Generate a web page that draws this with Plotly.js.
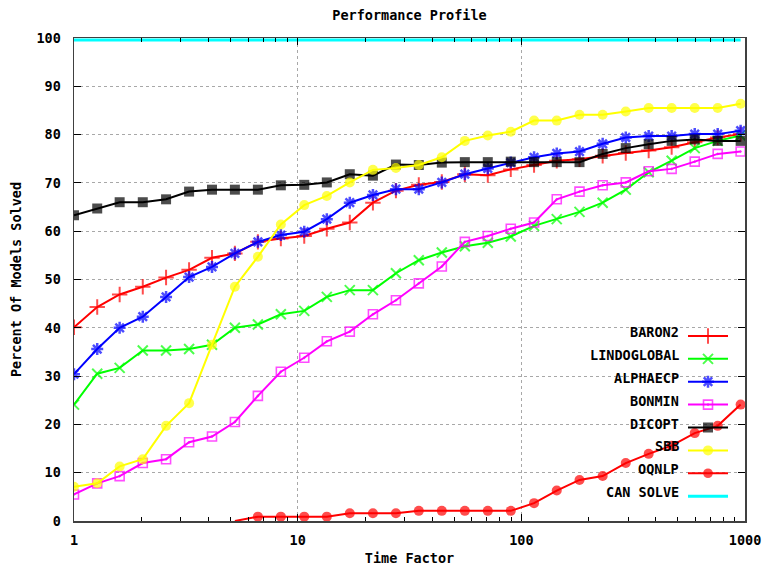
<!DOCTYPE html>
<html><head><meta charset="utf-8">
<script src="https://cdn.plot.ly/plotly-3.0.1.min.js"></script>
<style>html,body{margin:0;padding:0;background:#fff}#chart{width:766px;height:566px}</style>
</head><body><div id="chart"></div>
<script>
// ---- data ----
const timeFactor = [1, 1.27, 1.6, 2.03, 2.58, 3.27, 4.14, 5.24, 6.64, 8.41,
  10.7, 13.5, 17.1, 21.7, 27.5, 34.8, 44.1, 55.9, 70.8, 89.7,
  114, 144, 182, 231, 293, 371, 470, 596, 755, 956];
const seriesNames = ['BARON2', 'LINDOGLOBAL', 'ALPHAECP', 'BONMIN', 'DICOPT', 'SBB', 'OQNLP', 'CAN SOLVE'];
const baron2 = [40.1, 44.3, 46.9, 48.5, 50.4, 52.0, 54.5, 55.4, 57.8, 58.5,
  59.0, 60.5, 61.8, 65.9, 68.4, 69.6, 70.2, 71.8, 71.6, 72.8,
  73.7, 74.6, 74.9, 75.6, 76.2, 76.7, 77.4, 78.4, 79.4, 80.1];
const lindoglobal = [24.1, 30.5, 31.7, 35.3, 35.3, 35.6, 36.5, 40.0, 40.7, 42.8,
  43.5, 46.4, 47.8, 47.8, 51.3, 54.0, 55.6, 56.9, 57.6, 58.9,
  61.1, 62.5, 64.0, 65.9, 68.6, 72.2, 74.6, 77.2, 78.7, 79.8];
const alphaecp = [30.4, 35.6, 40.0, 42.3, 46.4, 50.5, 52.6, 55.4, 57.8, 59.2,
  59.9, 62.5, 65.9, 67.5, 68.7, 68.7, 70.1, 71.8, 73.0, 74.2,
  75.3, 76.1, 76.5, 78.1, 79.4, 79.7, 79.7, 80.1, 80.1, 80.8];
const bonmin = [5.5, 7.8, 9.3, 12.0, 12.8, 16.3, 17.5, 20.5, 25.9, 30.9,
  33.8, 37.2, 39.2, 42.8, 45.7, 49.2, 52.7, 57.8, 59.0, 60.5,
  61.8, 66.6, 68.2, 69.5, 70.1, 72.4, 72.9, 74.4, 76.0, 76.5];
const dicopt = [63.3, 64.7, 66.0, 66.0, 66.6, 68.2, 68.6, 68.6, 68.6, 69.5,
  69.6, 70.1, 71.8, 71.5, 73.8, 73.7, 74.2, 74.3, 74.3, 74.4,
  74.3, 74.3, 74.3, 76.0, 77.2, 78.0, 78.7, 79.0, 78.7, 78.7];
const sbb = [7.1, 7.8, 11.3, 12.8, 19.7, 24.4, 36.5, 48.5, 54.7, 61.4,
  65.4, 67.3, 70.1, 72.7, 73.1, 73.7, 75.3, 78.7, 79.8, 80.6,
  82.9, 82.9, 84.1, 84.1, 84.8, 85.5, 85.5, 85.5, 85.5, 86.4];
const oqnlp = [null, null, null, null, null, null, null, 0, 0.9, 0.9,
  0.9, 0.9, 1.6, 1.6, 1.6, 2.1, 2.1, 2.1, 2.1, 2.1,
  3.7, 6.3, 8.5, 9.3, 12.0, 13.9, 15.6, 18.2, 19.7, 24.1];
const canSolve = [99.6, 99.6, 99.6, 99.6, 99.6, 99.6, 99.6, 99.6, 99.6, 99.6,
  99.6, 99.6, 99.6, 99.6, 99.6, 99.6, 99.6, 99.6, 99.6, 99.6,
  99.6, 99.6, 99.6, 99.6, 99.6, 99.6, 99.6, 99.6, 99.6, 99.6];
const xTickVals = [1, 10, 100, 1000];
const xTickText = ['1', '10', '100', '1000'];
const xMinorVals = [2, 3, 4, 5, 6, 7, 8, 9, 20, 30, 40, 50, 60, 70, 80, 90, 200, 300, 400, 500, 600, 700, 800, 900];
const yTickVals = [0, 10, 20, 30, 40, 50, 60, 70, 80, 90, 100];

// ---- styles ----
const FONT = {family: 'DejaVu Sans Mono, monospace', size: 13.5, color: '#000', weight: 'bold'};
const seriesValues = [baron2, lindoglobal, alphaecp, bonmin, dicopt, sbb, oqnlp, canSolve];
const styles = [
  {color: '#ff0000', symbol: 'cross-thin-open', size: 11, lw: 2},
  {color: '#00ff00', symbol: 'x-thin-open', size: 10, lw: 2},
  {color: '#0000ff', symbol: 'asterisk-open', size: 10, lw: 2.5},
  {color: '#ff00ff', symbol: 'square-open-dot', size: 9, lw: 1.6},
  {color: '#000000', symbol: 'square', size: 10, lw: 0},
  {color: '#ffff00', symbol: 'circle', size: 10, lw: 0},
  {color: '#ff0000', symbol: 'circle', size: 10, lw: 0},
  {color: '#00ffff', symbol: null, size: 0, lw: 0}
];

const traces = seriesValues.map((vals, i) => {
  const s = styles[i];
  const t = {
    type: 'scatter', x: timeFactor, y: vals, name: ' ',
    line: {color: s.color, width: i === 7 ? 3 : 2},
    mode: i === 7 ? 'lines' : 'lines+markers',
    connectgaps: false, hoverinfo: 'skip'
  };
  if (i !== 7) {
    t.marker = {
      symbol: s.symbol, color: s.color,
      size: vals.map(v => v === 0 ? 0 : s.size),
      line: {color: s.color, width: s.lw}
    };
  }
  return t;
});

const PLOT_L = 74, PLOT_R = 745, PLOT_T = 38, PLOT_B = 521;
const legendTop = 332.3, legendStep = 22.8;
const annotations = seriesNames.map((n, i) => ({
  xref: 'paper', yref: 'paper',
  x: (681 - PLOT_L) / (PLOT_R - PLOT_L),
  y: (PLOT_B - (legendTop + legendStep * i)) / (PLOT_B - PLOT_T),
  xanchor: 'right', yanchor: 'middle', showarrow: false,
  text: n, font: FONT
}));

const axisCommon = {
  showline: true, linecolor: '#404040', linewidth: 1.5, mirror: 'allticks',
  ticks: 'inside', ticklen: 7, tickwidth: 1, tickcolor: '#000',
  showgrid: true, gridcolor: '#a8a8a8', gridwidth: 1, griddash: 'dot',
  zeroline: false, tickfont: FONT, fixedrange: true
};

const layout = {
  width: 766, height: 566,
  paper_bgcolor: '#fff', plot_bgcolor: '#fff',
  margin: {l: PLOT_L, r: 766 - PLOT_R, t: PLOT_T, b: 566 - PLOT_B},
  title: {text: 'Performance Profile', font: FONT, x: 0.5, xref: 'paper', y: 1 - 15 / 566, yanchor: 'middle'},
  xaxis: Object.assign({}, axisCommon, {
    type: 'log', range: [0, 3], tickmode: 'array', tickvals: xTickVals, ticktext: xTickText,
    minor: {tickmode: 'array', tickvals: xMinorVals, ticks: 'inside', ticklen: 4, tickcolor: '#000', showgrid: false},
    ticklabelstandoff: 6,
    title: {text: 'Time Factor', font: FONT, standoff: 14}
  }),
  yaxis: Object.assign({}, axisCommon, {
    range: [0, 100], tickmode: 'array', tickvals: yTickVals,
    ticklabelstandoff: 9,
    title: {text: 'Percent Of Models Solved', font: FONT, standoff: 11}
  }),
  showlegend: true,
  legend: {
    x: (683 - PLOT_L) / (PLOT_R - PLOT_L), y: (PLOT_B - 319.5) / (PLOT_B - PLOT_T),
    xanchor: 'left', yanchor: 'top', bgcolor: 'rgba(0,0,0,0)', borderwidth: 0,
    font: {family: 'DejaVu Sans Mono, monospace', size: 15.3}, itemwidth: 40, traceorder: 'normal'
  },
  annotations: annotations,
  hovermode: false
};

Plotly.newPlot('chart', traces, layout, {staticPlot: true, displayModeBar: false});
</script>
</body></html>
